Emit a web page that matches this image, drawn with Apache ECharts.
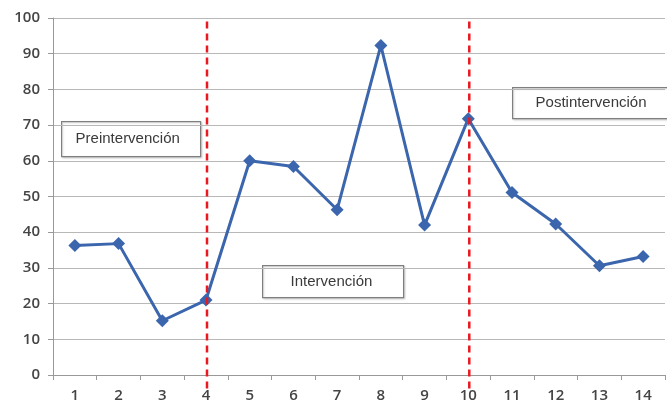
<!DOCTYPE html>
<html><head><meta charset="utf-8">
<script src="https://cdn.jsdelivr.net/npm/echarts@6/dist/echarts.min.js"></script>
<style>html,body{margin:0;padding:0;background:#fff}#c{width:667px;height:408px}</style>
</head><body><div id="c"></div>
<script>
const categories = ['1','2','3','4','5','6','7','8','9','10','11','12','13','14'];
const values = [36.3, 36.8, 15.2, 21.0, 60.0, 58.4, 46.3, 92.3, 42.0, 71.8, 51.1, 42.3, 30.6, 33.2];
const phaseLines = ['4', '10'];
const phaseLineTop = 99;
const phaseLineBottom = -4;
const yTicks = {min: 0, max: 100, interval: 10};

const chart = echarts.init(document.getElementById('c'));
const lblFont = {color: '#444', fontSize: 15, fontWeight: 600, fontFamily: 'Open Sans'};
function box(x, y, w, h, text, tx) {
  return {type: 'group', left: x, top: y, z: 10, children: [
    {type: 'rect', shape: {x: 0, y: 0, width: w, height: h},
     style: {fill: '#fff', stroke: '#7f7f7f', lineWidth: 1.2, shadowColor: 'rgba(0,0,0,0.15)', shadowBlur: 2, shadowOffsetX: 1, shadowOffsetY: 1}},
    {type: 'text', x: tx, y: h / 2,
     style: {text: text, fill: '#3a3a3a', font: '15px "Liberation Sans", Arial, sans-serif', verticalAlign: 'middle'}}
  ]};
}
chart.setOption({
  animation: false,
  grid: {left: 53, right: 2, top: 18, bottom: 33},
  xAxis: {
    type: 'category', data: categories, boundaryGap: true,
    axisLine: {lineStyle: {color: '#999', width: 1}},
    axisTick: {show: true, length: 5, lineStyle: {color: '#999'}},
    axisLabel: Object.assign({margin: 13}, lblFont)
  },
  yAxis: {
    type: 'value', min: yTicks.min, max: yTicks.max, interval: yTicks.interval,
    axisLine: {show: true, lineStyle: {color: '#999'}},
    axisTick: {show: true, length: 5, lineStyle: {color: '#999'}},
    axisLabel: Object.assign({margin: 13}, lblFont),
    splitLine: {lineStyle: {color: '#b8b8b8', width: 1}}
  },
  series: [{
    type: 'line', data: values,
    symbol: 'diamond', symbolSize: 13,
    lineStyle: {color: '#3b66ad', width: 3},
    itemStyle: {color: '#3b66ad'},
    z: 3
  }, {
    type: 'custom', clip: false, silent: true, z: 4,
    data: phaseLines.map(c => [c, phaseLineTop, phaseLineBottom]),
    encode: {x: 0, y: [1, 2]},
    renderItem: function (params, api) {
      const x = api.value(0);
      const p1 = api.coord([x, api.value(1)]);
      const p2 = api.coord([x, api.value(2)]);
      return {type: 'line', shape: {x1: p1[0] + 1, y1: p1[1], x2: p2[0] + 1, y2: p2[1]},
        style: {stroke: '#e8191f', lineWidth: 2.5, lineDash: [7, 5]}};
    }
  }],
  graphic: [
    box(61, 121, 139, 35, 'Preintervención', 14),
    box(262, 265, 141, 32, 'Intervención', 28),
    box(512, 87, 160, 31, 'Postintervención', 23)
  ]
});
</script></body></html>
